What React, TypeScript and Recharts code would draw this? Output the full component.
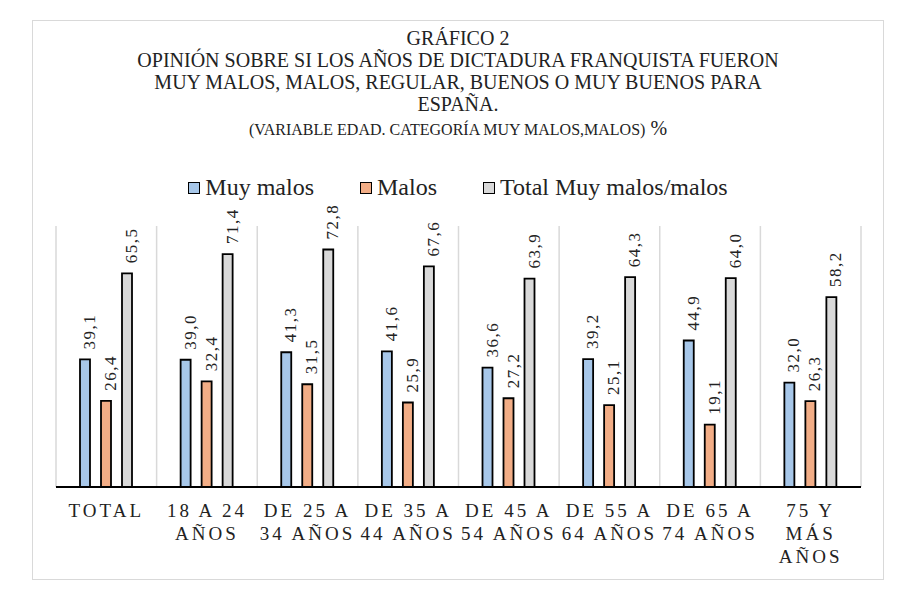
import React from "react";
import { BarChart, Bar, XAxis, YAxis, CartesianGrid, LabelList } from "recharts";

const categories = [
  "TOTAL",
  "18 A 24\nAÑOS",
  "DE 25 A\n34 AÑOS",
  "DE 35 A\n44 AÑOS",
  "DE 45 A\n54 AÑOS",
  "DE 55 A\n64 AÑOS",
  "DE 65 A\n74 AÑOS",
  "75 Y\nMÁS\nAÑOS",
];
const muyMalos = [39.1, 39.0, 41.3, 41.6, 36.6, 39.2, 44.9, 32.0];
const malos = [26.4, 32.4, 31.5, 25.9, 27.2, 25.1, 19.1, 26.3];
const totalMuyMalosMalos = [65.5, 71.4, 72.8, 67.6, 63.9, 64.3, 64.0, 58.2];

const titleLines = [
  "GRÁFICO 2",
  "OPINIÓN SOBRE SI LOS AÑOS DE DICTADURA FRANQUISTA FUERON",
  "MUY MALOS, MALOS, REGULAR, BUENOS O MUY BUENOS PARA",
  "ESPAÑA.",
];
const subtitle = "(VARIABLE EDAD. CATEGORÍA MUY MALOS,MALOS)";

const series = [
  { key: "muyMalos", name: "Muy malos", color: "#a7c7e9" },
  { key: "malos", name: "Malos", color: "#f2ad86" },
  { key: "total", name: "Total Muy malos/malos", color: "#d9d9d9" },
];

const data = categories.map((c, i) => ({
  name: c,
  muyMalos: muyMalos[i],
  malos: malos[i],
  total: totalMuyMalosMalos[i],
}));

const FONT = '"Liberation Serif", "Times New Roman", serif';

const renderLabel = (props: any) => {
  const { x, y, width, value } = props;
  const cx = Number(x) + Number(width) / 2 + 10;
  const cy = Number(y) - 10;
  return (
    <text
      transform={`translate(${cx}, ${cy}) rotate(-90)`}
      textAnchor="start"
      fontSize={17}
      letterSpacing={1.5}
      fontFamily={FONT}
      fill="#222"
    >
      {Number(value).toFixed(1).replace(".", ",")}
    </text>
  );
};

const CategoryTick = (props: any) => {
  const { x, y, payload } = props;
  const lines = String(payload.value).split("\n");
  return (
    <text
      x={x}
      y={y}
      textAnchor="middle"
      fontSize={19}
      letterSpacing={3}
      fontFamily={FONT}
      fill="#222"
    >
      {lines.map((l, i) => (
        <tspan key={i} x={x} y={y + 30 + i * 23}>
          {l}
        </tspan>
      ))}
    </text>
  );
};

export default function App() {
  return (
    <div style={{ paddingTop: 12, paddingLeft: 24, fontFamily: FONT, color: "#222" }}>
      <div
        style={{
          position: "relative",
          width: 852,
          height: 560,
          boxSizing: "border-box",
          border: "1px solid #d9d9d9",
          background: "#fff",
        }}
      >
        <div
          style={{
            position: "absolute",
            top: 6,
            left: 0,
            width: "100%",
            textAlign: "center",
            fontSize: 20,
            lineHeight: "22px",
          }}
        >
          {titleLines.map((t) => (
            <div key={t}>{t}</div>
          ))}
          <div style={{ marginTop: 2 }}>
            <span style={{ fontSize: 16 }}>{subtitle}</span> %
          </div>
        </div>
        <div
          style={{
            position: "absolute",
            top: 152,
            left: 0,
            width: "100%",
            display: "flex",
            justifyContent: "center",
            gap: 46,
            fontSize: 24,
            lineHeight: "28px",
          }}
        >
          {series.map((s) => (
            <div key={s.key} style={{ display: "flex", alignItems: "center" }}>
              <span
                style={{
                  display: "inline-block",
                  width: 10,
                  height: 10,
                  background: s.color,
                  border: "1.5px solid #000",
                  marginRight: 5,
                  marginTop: 2,
                }}
              />
              {s.name}
            </div>
          ))}
        </div>
        <BarChart
          width={850}
          height={558}
          data={data}
          margin={{ top: 205, right: 22, bottom: 22, left: 23 }}
          barSize={10}
          barGap={11}
        >
          <CartesianGrid
            horizontal={false}
            stroke="#d9d9d9"
            strokeWidth={1.5}
            verticalCoordinatesGenerator={({ offset }: any) =>
              categories
                .concat([""])
                .map((_, i) => offset.left + (i * offset.width) / categories.length)
            }
          />
          <XAxis
            dataKey="name"
            height={70}
            interval={0}
            tickLine={false}
            tickSize={0}
            tickMargin={0}
            axisLine={{ stroke: "#000", strokeWidth: 2 }}
            tick={<CategoryTick />}
          />
          <YAxis hide domain={[0, 80]} />
          {series.map((s) => (
            <Bar
              key={s.key}
              dataKey={s.key}
              name={s.name}
              fill={s.color}
              stroke="#000"
              strokeWidth={1.8}
              isAnimationActive={false}
            >
              <LabelList dataKey={s.key} content={renderLabel} />
            </Bar>
          ))}
        </BarChart>
      </div>
    </div>
  );
}
